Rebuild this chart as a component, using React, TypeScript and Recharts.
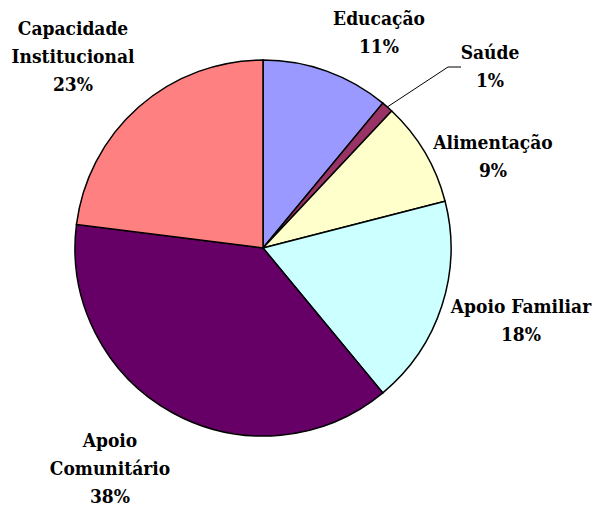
import React from 'react';
import { PieChart, Pie, Cell } from 'recharts';

const categories = [
  'Educação',
  'Saúde',
  'Alimentação',
  'Apoio Familiar',
  'Apoio Comunitário',
  'Capacidade Institucional',
];
const values = [11, 1, 9, 18, 38, 23];
const colors = ['#9999FF', '#993366', '#FFFFCC', '#CCFFFF', '#660066', '#FF8080'];

// label text lines (the category name may wrap over two lines)
const labelLines = [
  ['Educação'],
  ['Saúde'],
  ['Alimentação'],
  ['Apoio Familiar'],
  ['Apoio', 'Comunitário'],
  ['Capacidade', 'Institucional'],
];
// where each label's first baseline sits, relative to the pie centre
const labelOffset = [
  [116, -223],
  [227, -189],
  [230, -99],
  [258, 65],
  [-153, 199],
  [-190, -213],
];

const chartData = categories.map((name, i) => ({ name, value: values[i] }));
const total = values.reduce((a, b) => a + b, 0);

const RAD = Math.PI / 180;
const LINE_H = 28;
const FONT = '"DejaVu Serif Condensed", "DejaVu Serif", serif';

function renderLabel(props: any) {
  const { cx, cy, midAngle, outerRadius, index, value } = props;
  const [dx, dy] = labelOffset[index];
  const x = cx + dx;
  const y = cy + dy;
  const lines = [...labelLines[index], `${Math.round((value / total) * 100)}%`];
  let leader = null;
  if (index === 1) {
    const sx = cx + outerRadius * Math.cos(-midAngle * RAD);
    const sy = cy + outerRadius * Math.sin(-midAngle * RAD);
    const ex = x - 42;
    const ey = y + 8;
    leader = <path d={`M${sx},${sy} L${ex},${ey} L${ex + 13},${ey}`} stroke="#000" strokeWidth={1} fill="none" />;
  }
  return (
    <g key={`lbl-${index}`}>
      {leader}
      <text
        x={x}
        y={y}
        textAnchor="middle"
        style={{ fontFamily: FONT, fontStretch: 'condensed', fontWeight: 700, fontSize: 19, fill: '#000' }}
      >
        {lines.map((t, k) => (
          <tspan key={k} x={x} dy={k === 0 ? 0 : LINE_H}>
            {t}
          </tspan>
        ))}
      </text>
    </g>
  );
}

export default function App() {
  return (
    <div style={{ position: 'absolute', left: 0, top: 0, width: 594, height: 506, background: '#fff' }}>
      <PieChart width={594} height={506} margin={{ top: 0, right: 0, bottom: 0, left: 0 }}>
        <Pie
          data={chartData}
          dataKey="value"
          nameKey="name"
          cx={263}
          cy={248}
          outerRadius={188}
          startAngle={90}
          endAngle={-270}
          stroke="#000"
          strokeWidth={1.5}
          label={renderLabel}
          labelLine={false}
          isAnimationActive={false}
        >
          {chartData.map((d, i) => (
            <Cell key={d.name} fill={colors[i]} />
          ))}
        </Pie>
      </PieChart>
    </div>
  );
}
